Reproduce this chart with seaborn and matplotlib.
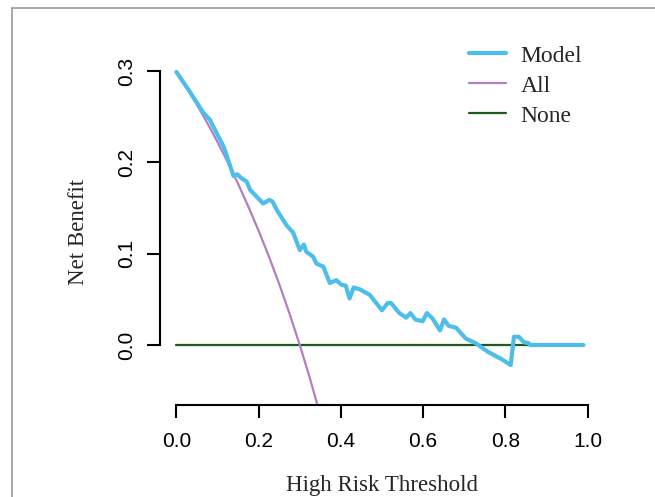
import matplotlib
matplotlib.use("Agg")
import matplotlib.pyplot as plt
import seaborn as sns
import pandas as pd
from matplotlib.lines import Line2D

# ---- data ----
model_x = [0.0, 0.033, 0.066, 0.081, 0.115, 0.139, 0.148, 0.157, 0.171, 0.179, 0.211, 0.226,
           0.234, 0.244, 0.268, 0.284, 0.300, 0.310, 0.316, 0.332, 0.341, 0.357, 0.373,
           0.389, 0.401, 0.412, 0.421, 0.431, 0.446, 0.470, 0.500, 0.514, 0.522, 0.542,
           0.559, 0.569, 0.581, 0.599, 0.609, 0.623, 0.641, 0.651, 0.662, 0.680, 0.704,
           0.728, 0.756, 0.772, 0.793, 0.813, 0.821, 0.833, 0.845, 0.857, 0.861, 0.990]
model_y = [0.299, 0.277, 0.254, 0.247, 0.217, 0.185, 0.187, 0.183, 0.179, 0.170, 0.155, 0.159,
           0.157, 0.148, 0.131, 0.123, 0.104, 0.110, 0.102, 0.097, 0.089, 0.086, 0.068,
           0.071, 0.066, 0.065, 0.051, 0.063, 0.061, 0.055, 0.038, 0.046, 0.046, 0.035,
           0.030, 0.035, 0.028, 0.026, 0.035, 0.029, 0.016, 0.028, 0.021, 0.019, 0.007,
           0.002, -0.007, -0.011, -0.016, -0.022, 0.009, 0.009, 0.003, 0.002, 0.000, 0.000]
all_x = [0.0, 0.025, 0.05, 0.075, 0.1, 0.125, 0.15, 0.175, 0.2, 0.225, 0.25, 0.275, 0.3,
         0.325, 0.35]
all_y = [0.300, 0.2821, 0.2632, 0.2432, 0.2222, 0.2000, 0.1765, 0.1515, 0.1250, 0.0968,
         0.0667, 0.0345, 0.0, -0.0370, -0.0769]
none_x = [0.0, 0.99]
none_y = [0.0, 0.0]
series_names = ["Model", "All", "None"]
x_ticks = [0.0, 0.2, 0.4, 0.6, 0.8, 1.0]
x_ticklabels = ["0.0", "0.2", "0.4", "0.6", "0.8", "1.0"]
y_ticks = [0.0, 0.1, 0.2, 0.3]
y_ticklabels = ["0.0", "0.1", "0.2", "0.3"]

colors = {"Model": "#4DBEEC", "All": "#B27FC0", "None": "#1E5A1E"}
widths = {"Model": 3.0, "All": 1.6, "None": 1.6}

sns.set_style("white")
plt.rcParams["font.family"] = ["Liberation Sans", "DejaVu Sans"]

fig = plt.figure(figsize=(6.55, 4.97), dpi=100)
ax = fig.add_axes([160 / 655, 1 - 405 / 497, (604 - 160) / 655, (405 - 58.3) / 497])

frames = {
    "Model": pd.DataFrame({"x": model_x, "y": model_y}),
    "All": pd.DataFrame({"x": all_x, "y": all_y}),
    "None": pd.DataFrame({"x": none_x, "y": none_y}),
}
for name in ["None", "All", "Model"]:
    sns.lineplot(data=frames[name], x="x", y="y", ax=ax, color=colors[name],
                 linewidth=widths[name], sort=False, estimator=None)

ax.set_xlim(-0.04, 1.04)
ax.set_ylim(-0.0657, 0.314)

for s in ["top", "right"]:
    ax.spines[s].set_visible(False)
for s in ["left", "bottom"]:
    ax.spines[s].set_color("black")
    ax.spines[s].set_linewidth(1.5)
ax.spines["left"].set_bounds(0.0, 0.3)
ax.spines["bottom"].set_bounds(0.0, 1.0)

ax.set_xticks(x_ticks)
ax.set_xticklabels(x_ticklabels)
ax.set_yticks(y_ticks)
ax.set_yticklabels(y_ticklabels, rotation=90, va="center")
ax.tick_params(axis="both", which="both", length=9.5, width=1.5, color="black",
               labelsize=15, labelcolor="black", direction="out", bottom=True, left=True)
ax.tick_params(axis="x", pad=10)
ax.tick_params(axis="y", pad=8)

serif = ["Liberation Serif", "DejaVu Serif"]
ax.set_xlabel("High Risk Threshold", fontsize=16.5, family=serif)
ax.set_ylabel("Net Benefit", fontsize=16.5, family=serif)
ax.xaxis.set_label_coords(0.5, -(486 - 405) / (405 - 58.3), transform=ax.transAxes)
ax.yaxis.set_label_coords(-(160 - 79) / (604 - 160), 0.5, transform=ax.transAxes)
ax.xaxis.label.set_va("center")
ax.yaxis.label.set_va("center")

handles = [Line2D([0], [0], color=colors[n], linewidth=widths[n] if n != "Model" else 3.0)
           for n in series_names]
leg = ax.legend(handles, series_names, loc="upper left",
                bbox_to_anchor=(462 / 655, 1 - 38 / 497), bbox_transform=fig.transFigure,
                frameon=False, handlelength=1.55, handletextpad=0.62, labelspacing=0.36,
                borderaxespad=0, borderpad=0.3,
                prop={"family": serif, "size": 17})

# outer grey frame (left and top edges)
fig.add_artist(Line2D([12 / 655, 12 / 655], [0, 1 - 7.5 / 497], color="#9a9a9a",
                      linewidth=1.2, transform=fig.transFigure))
fig.add_artist(Line2D([12 / 655, 1], [1 - 7.5 / 497, 1 - 7.5 / 497], color="#9a9a9a",
                      linewidth=1.2, transform=fig.transFigure))

fig.savefig("out.png", dpi=100)
